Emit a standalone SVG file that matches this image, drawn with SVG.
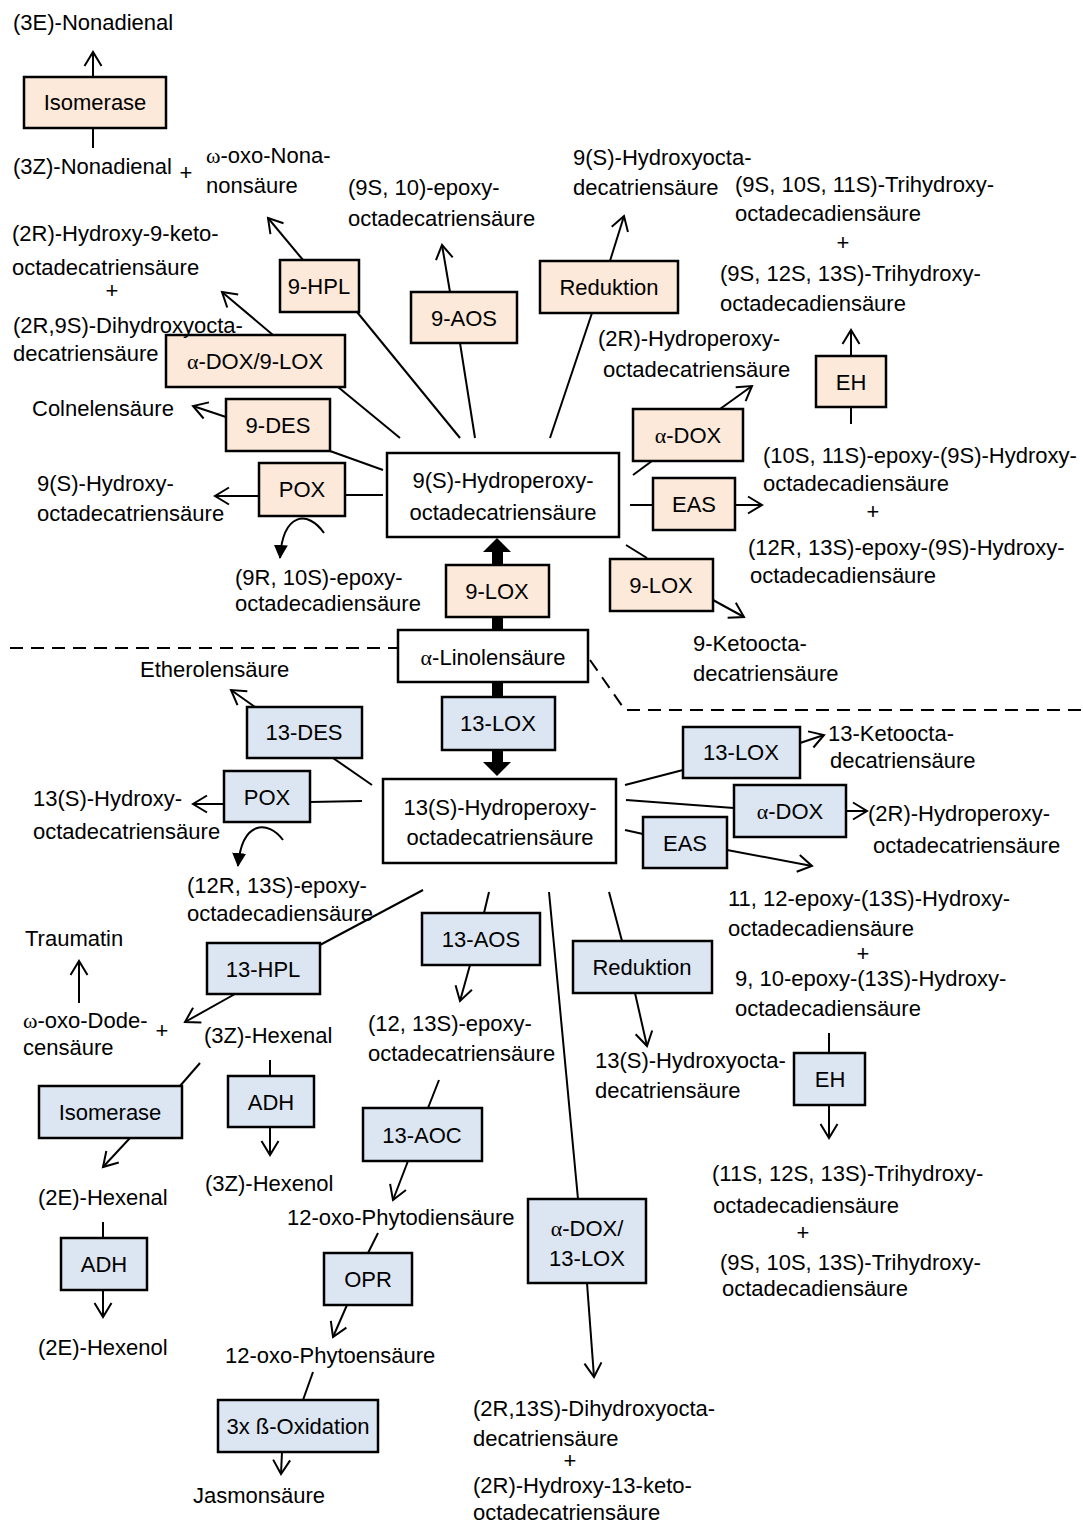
<svg xmlns="http://www.w3.org/2000/svg" width="1083" height="1523" viewBox="0 0 1083 1523">
<style>
text{font-family:"Liberation Sans",Arial,sans-serif;font-size:22px;fill:#000}
.m{text-anchor:middle}
.g{font-family:"Liberation Serif","Times New Roman",serif}
.o rect{fill:#FDE9D9;stroke:#000;stroke-width:2.5}
.b rect{fill:#DCE6F2;stroke:#000;stroke-width:2.5}
.w rect{fill:#fff;stroke:#000;stroke-width:2.5}
#conn line,#conn path{stroke:#000;stroke-width:2;fill:none}
#conn .ar{marker-end:url(#a)}
#conn .cf{marker-end:url(#f)}
#conn .d{stroke-dasharray:13 8}
#conn .th{fill:#000;stroke:none}
</style>
<defs>
<marker id="a" markerUnits="userSpaceOnUse" markerWidth="20" markerHeight="20" viewBox="0 0 20 20" refX="16" refY="10" orient="auto"><path d="M2,1.5 L16,10 L2,18.5" fill="none" stroke="#000" stroke-width="2"/></marker>
<marker id="f" markerUnits="userSpaceOnUse" markerWidth="16" markerHeight="16" viewBox="0 0 16 16" refX="13" refY="8" orient="auto"><path d="M0,1 L14,8 L0,15 z" fill="#000"/></marker>
</defs>
<rect width="1083" height="1523" fill="#fff"/>

<g id="conn">
<line x1="10" y1="648" x2="398" y2="648" class="d"/>
<path d="M590,660 L625,710 L1083,710" class="d"/>
<line x1="93" y1="77" x2="93" y2="52" class="ar"/>
<line x1="93" y1="128" x2="93" y2="148"/>
<line x1="303" y1="260" x2="268" y2="218" class="ar"/>
<line x1="357" y1="312" x2="460" y2="438"/>
<line x1="450" y1="292" x2="442" y2="245" class="ar"/>
<line x1="460" y1="343" x2="475" y2="438"/>
<line x1="610" y1="261" x2="624" y2="216" class="ar"/>
<line x1="592" y1="313" x2="550" y2="438"/>
<line x1="273" y1="335" x2="222" y2="292" class="ar"/>
<line x1="338" y1="387" x2="400" y2="438"/>
<line x1="226" y1="417" x2="193" y2="406" class="ar"/>
<line x1="330" y1="451" x2="383" y2="470"/>
<line x1="259" y1="496" x2="215" y2="496" class="ar"/>
<line x1="345" y1="495" x2="383" y2="495"/>
<path d="M324,533 C308,510 283,512 280,558" class="cf"/>
<line x1="633" y1="475" x2="652" y2="461"/>
<line x1="720" y1="409" x2="752" y2="386" class="ar"/>
<line x1="630" y1="505" x2="653" y2="505"/>
<line x1="735" y1="505" x2="762" y2="505" class="ar"/>
<line x1="626" y1="545" x2="647" y2="558"/>
<line x1="713" y1="600" x2="744" y2="617" class="ar"/>
<line x1="851" y1="356" x2="851" y2="330" class="ar"/>
<line x1="851" y1="407" x2="851" y2="424"/>
<rect class="th" x="492" y="550" width="11" height="15"/>
<rect class="th" x="492" y="617" width="11" height="13"/>
<polygon class="th" points="483,552 511,552 497,538"/>
<rect class="th" x="492" y="682" width="11" height="15"/>
<rect class="th" x="492" y="750" width="11" height="13"/>
<polygon class="th" points="483,762 511,762 497,776"/>
<line x1="255" y1="707" x2="231" y2="690" class="ar"/>
<line x1="333" y1="758" x2="372" y2="785"/>
<line x1="224" y1="804" x2="193" y2="804" class="ar"/>
<line x1="310" y1="802" x2="362" y2="801"/>
<path d="M283,840 C268,820 242,820 238,866" class="cf"/>
<line x1="625" y1="785" x2="683" y2="770"/>
<line x1="800" y1="743" x2="824" y2="735" class="ar"/>
<line x1="626" y1="800" x2="734" y2="808"/>
<line x1="846" y1="811" x2="867" y2="811" class="ar"/>
<line x1="625" y1="830" x2="643" y2="834"/>
<line x1="727" y1="850" x2="812" y2="866" class="ar"/>
<line x1="609" y1="892" x2="622" y2="941"/>
<line x1="635" y1="993" x2="647" y2="1046" class="ar"/>
<line x1="489" y1="892" x2="484" y2="913"/>
<line x1="470" y1="965" x2="460" y2="1001" class="ar"/>
<line x1="549" y1="892" x2="578" y2="1199"/>
<line x1="587" y1="1283" x2="594" y2="1377" class="ar"/>
<line x1="423" y1="890" x2="320" y2="945"/>
<line x1="235" y1="994" x2="185" y2="1022" class="ar"/>
<line x1="79" y1="1003" x2="79" y2="961" class="ar"/>
<line x1="200" y1="1063" x2="180" y2="1086"/>
<line x1="130" y1="1138" x2="103" y2="1167" class="ar"/>
<line x1="270" y1="1060" x2="270" y2="1076"/>
<line x1="270" y1="1127" x2="270" y2="1155" class="ar"/>
<line x1="103" y1="1222" x2="103" y2="1238"/>
<line x1="103" y1="1290" x2="103" y2="1317" class="ar"/>
<line x1="829" y1="1033" x2="829" y2="1053"/>
<line x1="829" y1="1105" x2="829" y2="1138" class="ar"/>
<line x1="439" y1="1080" x2="428" y2="1108"/>
<line x1="408" y1="1161" x2="393" y2="1200" class="ar"/>
<line x1="378" y1="1233" x2="368" y2="1253"/>
<line x1="347" y1="1305" x2="333" y2="1337" class="ar"/>
<line x1="313" y1="1372" x2="303" y2="1400"/>
<line x1="282" y1="1452" x2="281" y2="1474" class="ar"/>
</g>

<!-- substrate boxes -->
<g id="hpot9" class="w"><rect x="387" y="453" width="232" height="84"/><text class="m" x="503" y="488">9(S)-Hydroperoxy-</text><text class="m" x="503" y="520">octadecatriensäure</text></g>
<g id="ala" class="w"><rect x="398" y="630" width="190" height="52"/><text class="m" x="493" y="665"><tspan class="g">α</tspan>-Linolensäure</text></g>
<g id="hpot13" class="w"><rect x="383" y="779" width="233" height="84"/><text class="m" x="500" y="815">13(S)-Hydroperoxy-</text><text class="m" x="500" y="845">octadecatriensäure</text></g>

<!-- 9-LOX branch enzymes -->
<g id="iso9" class="o"><rect x="24" y="77" width="142" height="51"/><text class="m" x="95" y="110">Isomerase</text></g>
<g id="hpl9" class="o"><rect x="280" y="260" width="79" height="52"/><text class="m" x="319" y="294">9-HPL</text></g>
<g id="aos9" class="o"><rect x="411" y="292" width="106" height="51"/><text class="m" x="464" y="326">9-AOS</text></g>
<g id="red9" class="o"><rect x="540" y="261" width="138" height="52"/><text class="m" x="609" y="295">Reduktion</text></g>
<g id="doxlox9" class="o"><rect x="166" y="335" width="179" height="52"/><text class="m" x="255" y="369"><tspan class="g">α</tspan>-DOX/9-LOX</text></g>
<g id="des9" class="o"><rect x="226" y="399" width="104" height="52"/><text class="m" x="278" y="433">9-DES</text></g>
<g id="pox9" class="o"><rect x="259" y="463" width="86" height="53"/><text class="m" x="302" y="497">POX</text></g>
<g id="lox9a" class="o"><rect x="446" y="565" width="103" height="52"/><text class="m" x="497" y="599">9-LOX</text></g>
<g id="dox9" class="o"><rect x="633" y="409" width="110" height="52"/><text class="m" x="688" y="443"><tspan class="g">α</tspan>-DOX</text></g>
<g id="eas9" class="o"><rect x="653" y="478" width="82" height="52"/><text class="m" x="694" y="512">EAS</text></g>
<g id="lox9b" class="o"><rect x="610" y="559" width="103" height="52"/><text class="m" x="661" y="593">9-LOX</text></g>
<g id="eh9" class="o"><rect x="816" y="356" width="70" height="51"/><text class="m" x="851" y="390">EH</text></g>

<!-- 13-LOX branch enzymes -->
<g id="lox13" class="b"><rect x="442" y="697" width="113" height="53"/><text class="m" x="498" y="731">13-LOX</text></g>
<g id="des13" class="b"><rect x="247" y="707" width="115" height="51"/><text class="m" x="304" y="740">13-DES</text></g>
<g id="pox13" class="b"><rect x="224" y="771" width="86" height="51"/><text class="m" x="267" y="805">POX</text></g>
<g id="lox13b" class="b"><rect x="683" y="727" width="117" height="51"/><text class="m" x="741" y="760">13-LOX</text></g>
<g id="dox13" class="b"><rect x="734" y="785" width="112" height="52"/><text class="m" x="790" y="819"><tspan class="g">α</tspan>-DOX</text></g>
<g id="eas13" class="b"><rect x="643" y="817" width="84" height="51"/><text class="m" x="685" y="851">EAS</text></g>
<g id="hpl13" class="b"><rect x="207" y="943" width="113" height="51"/><text class="m" x="263" y="977">13-HPL</text></g>
<g id="aos13" class="b"><rect x="422" y="913" width="118" height="52"/><text class="m" x="481" y="947">13-AOS</text></g>
<g id="red13" class="b"><rect x="573" y="941" width="139" height="52"/><text class="m" x="642" y="975">Reduktion</text></g>
<g id="eh13" class="b"><rect x="794" y="1053" width="71" height="52"/><text class="m" x="830" y="1087">EH</text></g>
<g id="iso13" class="b"><rect x="39" y="1086" width="143" height="52"/><text class="m" x="110" y="1120">Isomerase</text></g>
<g id="adh1" class="b"><rect x="228" y="1076" width="86" height="51"/><text class="m" x="271" y="1110">ADH</text></g>
<g id="aoc13" class="b"><rect x="363" y="1108" width="119" height="53"/><text class="m" x="422" y="1143">13-AOC</text></g>
<g id="adh2" class="b"><rect x="61" y="1238" width="86" height="52"/><text class="m" x="104" y="1272">ADH</text></g>
<g id="opr" class="b"><rect x="324" y="1253" width="88" height="52"/><text class="m" x="368" y="1287">OPR</text></g>
<g id="doxlox13" class="b"><rect x="528" y="1199" width="118" height="84"/><text class="m" x="587" y="1236"><tspan class="g">α</tspan>-DOX/</text><text class="m" x="587" y="1266">13-LOX</text></g>
<g id="boxid" class="b"><rect x="218" y="1400" width="160" height="52"/><text class="m" x="298" y="1434">3x ß-Oxidation</text></g>

<!-- product labels -->
<g id="products">
<text x="13" y="30">(3E)-Nonadienal</text>
<text x="13" y="174">(3Z)-Nonadienal</text><text class="m" x="186" y="180">+</text>
<text x="206" y="163"><tspan class="g">ω</tspan>-oxo-Nona-</text><text x="206" y="193">nonsäure</text>
<text x="348" y="195">(9S, 10)-epoxy-</text><text x="348" y="226">octadecatriensäure</text>
<text x="573" y="165">9(S)-Hydroxyocta-</text><text x="573" y="195">decatriensäure</text>
<text x="735" y="192">(9S, 10S, 11S)-Trihydroxy-</text><text x="735" y="221">octadecadiensäure</text><text class="m" x="843" y="250">+</text>
<text x="720" y="281">(9S, 12S, 13S)-Trihydroxy-</text><text x="720" y="311">octadecadiensäure</text>
<text x="12" y="241">(2R)-Hydroxy-9-keto-</text><text x="12" y="275">octadecatriensäure</text><text class="m" x="112" y="298">+</text>
<text x="13" y="333">(2R,9S)-Dihydroxyocta-</text><text x="13" y="361">decatriensäure</text>
<text x="598" y="346">(2R)-Hydroperoxy-</text><text x="603" y="377">octadecatriensäure</text>
<text x="32" y="416">Colnelensäure</text>
<text x="37" y="491">9(S)-Hydroxy-</text><text x="37" y="521">octadecatriensäure</text>
<text x="235" y="585">(9R, 10S)-epoxy-</text><text x="235" y="611">octadecadiensäure</text>
<text x="693" y="651">9-Ketoocta-</text><text x="693" y="681">decatriensäure</text>
<text x="763" y="463">(10S, 11S)-epoxy-(9S)-Hydroxy-</text><text x="763" y="491">octadecadiensäure</text><text class="m" x="873" y="519">+</text>
<text x="748" y="555">(12R, 13S)-epoxy-(9S)-Hydroxy-</text><text x="750" y="583">octadecadiensäure</text>
<text x="140" y="677">Etherolensäure</text>
<text x="33" y="806">13(S)-Hydroxy-</text><text x="33" y="839">octadecatriensäure</text>
<text x="187" y="893">(12R, 13S)-epoxy-</text><text x="187" y="921">octadecadiensäure</text>
<text x="828" y="741">13-Ketoocta-</text><text x="830" y="768">decatriensäure</text>
<text x="868" y="821">(2R)-Hydroperoxy-</text><text x="873" y="853">octadecatriensäure</text>
<text x="728" y="906">11, 12-epoxy-(13S)-Hydroxy-</text><text x="728" y="936">octadecadiensäure</text><text class="m" x="863" y="961">+</text>
<text x="735" y="986">9, 10-epoxy-(13S)-Hydroxy-</text><text x="735" y="1016">octadecadiensäure</text>
<text x="25" y="946">Traumatin</text>
<text x="23" y="1028"><tspan class="g">ω</tspan>-oxo-Dode-</text><text x="23" y="1055">censäure</text><text class="m" x="162" y="1038">+</text>
<text x="204" y="1043">(3Z)-Hexenal</text>
<text x="368" y="1031">(12, 13S)-epoxy-</text><text x="368" y="1061">octadecatriensäure</text>
<text x="595" y="1068">13(S)-Hydroxyocta-</text><text x="595" y="1098">decatriensäure</text>
<text x="205" y="1191">(3Z)-Hexenol</text>
<text x="38" y="1205">(2E)-Hexenal</text>
<text x="287" y="1225">12-oxo-Phytodiensäure</text>
<text x="38" y="1355">(2E)-Hexenol</text>
<text x="225" y="1363">12-oxo-Phytoensäure</text>
<text x="193" y="1503">Jasmonsäure</text>
<text x="712" y="1181">(11S, 12S, 13S)-Trihydroxy-</text><text x="713" y="1213">octadecadiensäure</text><text class="m" x="803" y="1240">+</text>
<text x="720" y="1270">(9S, 10S, 13S)-Trihydroxy-</text><text x="722" y="1296">octadecadiensäure</text>
<text x="473" y="1416">(2R,13S)-Dihydroxyocta-</text><text x="473" y="1446">decatriensäure</text><text class="m" x="570" y="1468">+</text>
<text x="473" y="1493">(2R)-Hydroxy-13-keto-</text><text x="473" y="1520">octadecatriensäure</text>
</g>
</svg>
